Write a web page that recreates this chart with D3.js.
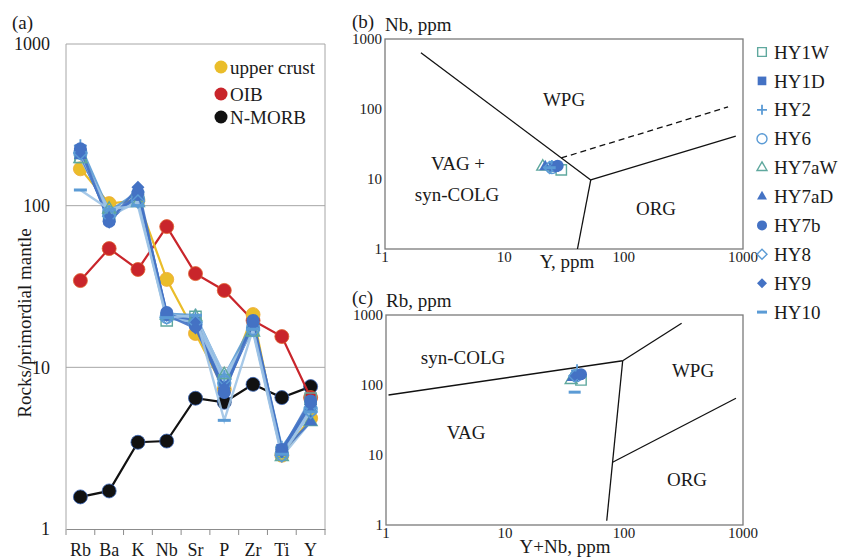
<!DOCTYPE html>
<html>
<head>
<meta charset="utf-8">
<script src="https://cdn.jsdelivr.net/npm/d3@7"></script>
<style>
  body { margin: 0; background: #fff; }
</style>
</head>
<body>
<svg id="chart" width="843" height="560" font-family="'Liberation Serif', 'Times New Roman', Times, serif"></svg>
<script>
// ---- data ----
const elements = ["Rb", "Ba", "K", "Nb", "Sr", "P", "Zr", "Ti", "Y"];
const upperCrust = [169, 103, 108, 35, 16.2, 7.3, 21.2, 2.86, 4.84];
const oib = [34.4, 54.3, 40.3, 74.2, 38, 29.9, 19.5, 15.5, 6.5];
const nMorb = [1.58, 1.72, 3.44, 3.5, 6.44, 6.08, 7.85, 6.5, 7.6];

const samples = ["HY1W", "HY1D", "HY2", "HY6", "HY7aW", "HY7aD", "HY7b", "HY8", "HY9", "HY10"];
// rocks / primordial mantle, one array per sample
const hy1w  = [200, 88, 108, 19.5, 20.5, 8.3, 17, 3.0, 6.4];
const hy1d  = [220, 82, 116, 21, 19, 7.6, 18.5, 3.1, 5.7];
const hy2   = [235, 92, 122, 21.5, 21, 8.8, 19, 3.2, 5.6];
const hy6   = [212, 90, 110, 20.5, 18.5, 8.0, 17.5, 2.9, 5.5];
const hy7aw = [195, 95, 104, 21, 20.5, 9.0, 16.5, 2.8, 4.6];
const hy7ad = [205, 84, 114, 21, 19.5, 7.3, 18, 3.0, 4.6];
const hy7b  = [225, 80, 120, 21.8, 18, 7.0, 19.5, 3.1, 6.2];
const hy8   = [212, 86, 106, 20.3, 19, 8.4, 17, 2.85, 5.3];
const hy9   = [222, 79, 130, 21, 17.5, 7.4, 18.5, 3.0, 5.9];
const hy10  = [125, 95, 100, 20.3, 21, 4.7, 17.2, 2.9, 5.3];
const spider = [hy1w, hy1d, hy2, hy6, hy7aw, hy7ad, hy7b, hy8, hy9, hy10];

// ppm values for the discrimination diagrams
const sampleY  = [30, 26, 25, 25, 21, 22, 28, 24, 27, 24];
const sampleNb = [13.5, 15, 15.3, 14.6, 15, 15, 15.5, 14.6, 15, 14.5];
const sampleRb = [118, 140, 162, 135, 118, 128, 142, 135, 141, 79];

const logTicks = [1, 10, 100, 1000];

// field boundaries (Pearce et al. 1984), [x, y] in ppm
const nbyLines = [
  [[2, 634], [53, 9.7]],
  [[53, 9.7], [41, 1]],
  [[53, 9.7], [870, 41]]
];
const nbyDashed = [[30, 20], [750, 107]];
const rbLines = [
  [[1.05, 72], [97.5, 222]],
  [[97.5, 222], [305, 761]],
  [[97.5, 222], [71.6, 1.15]],
  [[80.2, 7.87], [873, 64.6]]
];

// ---- styles ----
const teal = "#5fa89e", dark = "#4472c4", mid = "#5b9bd5", light = "#9dc3e6";
const markerKind  = ["sqOpen", "sqFill", "plus", "circOpen", "triOpen", "triFill", "circFill", "diaOpen", "diaFill", "dash"];
const markerColor = [teal, dark, mid, mid, teal, dark, dark, mid, dark, mid];
const lineColor   = [light, dark, mid, light, light, dark, dark, light, dark, light];
const ink = "#1a1a1a";

const svg = d3.select("#chart");

function drawMarker(g, kind, color, w) {
  let p;
  if (kind === "plus") {
    const h = w / 2;
    return g.append("path").attr("d", `M${-h},0H${h}M0,${-h}V${h}`)
      .attr("stroke", color).attr("stroke-width", 1.8).attr("fill", "none");
  }
  if (kind === "dash") {
    const h = w / 2;
    return g.append("path").attr("d", `M${-h},0H${h}`)
      .attr("stroke", color).attr("stroke-width", 3).attr("fill", "none");
  }
  const sym = d3.symbol();
  if (kind.startsWith("sq")) sym.type(d3.symbolSquare).size(w * w * 0.75);
  else if (kind.startsWith("circ")) sym.type(d3.symbolCircle).size(Math.PI * w * w / 4);
  else if (kind.startsWith("tri")) sym.type(d3.symbolTriangle).size(0.433 * w * w);
  else sym.type(d3.symbolSquare).size(w * w * 0.5);
  p = g.append("path").attr("d", sym());
  if (kind.startsWith("dia")) p.attr("transform", "rotate(45)");
  if (kind.endsWith("Open")) p.attr("fill", "none").attr("stroke", color).attr("stroke-width", 1.4);
  else p.attr("fill", color);
  return p;
}

function label(x, y, t, size, anchor) {
  return svg.append("text").attr("x", x).attr("y", y)
    .attr("text-anchor", anchor || "start").attr("fill", ink)
    .style("font-size", size + "px").text(t);
}

// ================= panel (a) spider diagram =================
const xA = d3.scaleBand().domain(elements).range([66, 325]);
const yA = d3.scaleLog().domain([1, 1000]).range([529, 44]);
const cx = (i) => xA(elements[i]) + xA.bandwidth() / 2;

label(12, 29, "(a)", 19);

const gA = svg.append("g");
gA.selectAll("line.grid").data([10, 100]).join("line")
  .attr("x1", 66).attr("x2", 325).attr("y1", d => yA(d)).attr("y2", d => yA(d))
  .attr("stroke", "#a6a6a6").attr("stroke-width", 1);
gA.append("path").attr("d", `M66,529V44H325V529`).attr("fill", "none")
  .attr("stroke", "#a6a6a6").attr("stroke-width", 1);

const axA = gA.append("g").attr("transform", "translate(0,529)")
  .call(d3.axisBottom(xA).tickSize(0).tickFormat(""));
axA.select(".domain").attr("stroke", "#8c8c8c").attr("stroke-width", 1.2);
gA.selectAll("line.tk").data(d3.range(elements.length + 1)).join("line")
  .attr("x1", i => 66 + i * xA.bandwidth()).attr("x2", i => 66 + i * xA.bandwidth())
  .attr("y1", 529).attr("y2", 535).attr("stroke", "#8c8c8c");

elements.forEach(d => label(xA(d) + xA.bandwidth() / 2, 556, d, 18, "middle"));
logTicks.forEach(d => label(50, yA(d), d, 18, "end").attr("dy", "0.35em"));

svg.append("text").attr("transform", "translate(31,323) rotate(-90)")
  .attr("text-anchor", "middle").attr("fill", ink).style("font-size", "19px")
  .text("Rocks/primordial mantle");

const lineA = d3.line().x((d, i) => cx(i)).y(d => yA(d));
const refs = [
  { vals: nMorb, fill: "#111111", stroke: "#3a66b8", line: "#111111" },
  { vals: oib, fill: "#c9252b", stroke: "#e0612c", line: "#c9252b" },
  { vals: upperCrust, fill: "#eabd2a", stroke: "#f0a830", line: "#eabd2a" }
];
refs.forEach(r => {
  gA.append("path").attr("d", lineA(r.vals)).attr("fill", "none")
    .attr("stroke", r.line).attr("stroke-width", 2.2);
  gA.selectAll(null).data(r.vals).join("circle")
    .attr("cx", (d, i) => cx(i)).attr("cy", d => yA(d)).attr("r", 7)
    .attr("fill", r.fill).attr("stroke", r.stroke).attr("stroke-width", 0.8);
});

spider.forEach((vals, s) => {
  gA.append("path").attr("d", lineA(vals)).attr("fill", "none")
    .attr("stroke", lineColor[s]).attr("stroke-width", 2.4).attr("stroke-opacity", 0.9);
});
spider.forEach((vals, s) => {
  vals.forEach((v, i) => {
    const g = gA.append("g").attr("transform", `translate(${cx(i)},${yA(v)})`);
    drawMarker(g, markerKind[s], markerColor[s], 13);
  });
});

// legend for reference curves
const legA = [["upper crust", "#eabd2a", 67], ["OIB", "#c9252b", 94], ["N-MORB", "#111111", 117]];
legA.forEach(([t, c, y]) => {
  svg.append("circle").attr("cx", 221).attr("cy", y).attr("r", 6.5).attr("fill", c);
  label(230, y, t, 19).attr("dy", "0.35em");
});

// ================= discrimination diagrams =================
function logPanel(opts) {
  const x = d3.scaleLog().domain([1, 1000]).range(opts.xr);
  const y = d3.scaleLog().domain([1, 1000]).range(opts.yr);
  const g = svg.append("g");
  g.append("rect").attr("x", opts.xr[0]).attr("y", opts.yr[1])
    .attr("width", opts.xr[1] - opts.xr[0]).attr("height", opts.yr[0] - opts.yr[1])
    .attr("fill", "none").attr("stroke", "#7a7a7a").attr("stroke-width", 1.3);
  logTicks.forEach(d => label(opts.xr[0] - 3, y(d), d, 15, "end").attr("dy", "0.35em"));
  logTicks.forEach(d => label(x(d), opts.yr[0] + 13, d, 15, "middle"));
  label(352, opts.yr[1] - 11, opts.tag, 19);
  label(opts.xr[0], opts.yr[1] - 8, opts.ytitle, 19);
  label(opts.xtx, opts.xty, opts.xtitle, 19, "middle");

  const ln = d3.line().x(d => x(d[0])).y(d => y(d[1]));
  opts.lines.forEach(seg => g.append("path").attr("d", ln(seg))
    .attr("fill", "none").attr("stroke", "#111").attr("stroke-width", 1.3));
  if (opts.dashed) g.append("path").attr("d", ln(opts.dashed)).attr("fill", "none")
    .attr("stroke", "#111").attr("stroke-width", 1.3).attr("stroke-dasharray", "6,4");

  opts.labels.forEach(([t, px, py]) => label(px, py, t, 19, "middle").attr("dy", "0.35em"));

  opts.xs.forEach((xv, s) => {
    const m = g.append("g").attr("transform", `translate(${x(xv)},${y(opts.ys[s])})`);
    drawMarker(m, markerKind[s], markerColor[s], 12);
  });
}

logPanel({
  xr: [385, 743], yr: [249, 39], tag: "(b)", ytitle: "Nb, ppm",
  xtitle: "Y, ppm", xtx: 567, xty: 268,
  lines: nbyLines, dashed: nbyDashed,
  labels: [["WPG", 564, 99], ["VAG +", 458, 163], ["syn-COLG", 457, 194], ["ORG", 656, 208]],
  xs: sampleY, ys: sampleNb
});

logPanel({
  xr: [386, 743], yr: [525, 315], tag: "(c)", ytitle: "Rb, ppm",
  xtitle: "Y+Nb, ppm", xtx: 565, xty: 553,
  lines: rbLines,
  labels: [["syn-COLG", 463, 357], ["VAG", 466, 432], ["WPG", 693, 370], ["ORG", 687, 479]],
  xs: sampleY.map((v, i) => v + sampleNb[i]), ys: sampleRb
});

// ================= sample legend =================
samples.forEach((name, s) => {
  const yy = 52 + s * 28.9;
  const m = svg.append("g").attr("transform", `translate(762,${yy})`);
  drawMarker(m, markerKind[s], markerColor[s], 10);
  label(774, yy, name, 19).attr("dy", "0.35em");
});
</script>
</body>
</html>
